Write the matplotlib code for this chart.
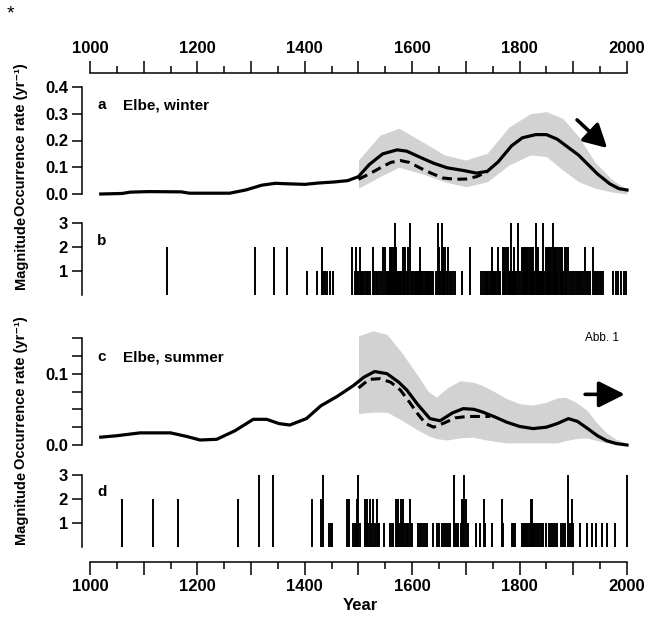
import numpy as np
import matplotlib.pyplot as plt

plt.rcParams['font.family'] = ['Liberation Sans', 'DejaVu Sans']
plt.rcParams['font.weight'] = 'bold'

# --- winter (a) smoothed occurrence rate ---
win_years = [1020, 1060, 1075, 1110, 1170, 1185, 1260, 1290, 1320, 1345, 1370, 1400,
             1425, 1455, 1480, 1500, 1520, 1545, 1572, 1590, 1615, 1640, 1665, 1695,
             1720, 1740, 1760, 1785, 1805, 1830, 1850, 1870, 1890, 1910, 1925, 1945,
             1968, 1985, 2000]
win_rate = [0.0, 0.002, 0.007, 0.009, 0.008, 0.003, 0.003, 0.015, 0.033, 0.04, 0.038, 0.036,
            0.041, 0.045, 0.05, 0.065, 0.11, 0.15, 0.165, 0.16, 0.137, 0.115, 0.098, 0.088,
            0.078, 0.085, 0.12, 0.18, 0.21, 0.222, 0.222, 0.205, 0.175, 0.145, 0.115, 0.075,
            0.038, 0.02, 0.015]
win_band_years = [1500, 1540, 1575, 1615, 1660, 1700, 1740, 1780, 1820, 1850, 1880,
                  1910, 1940, 1970, 2000]
win_band_lo = [0.022, 0.065, 0.1, 0.078, 0.046, 0.027, 0.046, 0.108, 0.146, 0.14, 0.09,
               0.046, 0.022, 0.008, 0.0]
win_band_hi = [0.127, 0.22, 0.246, 0.2, 0.146, 0.127, 0.153, 0.25, 0.3, 0.308, 0.283,
               0.215, 0.12, 0.058, 0.015]
win_dash_years = [1500, 1520, 1540, 1560, 1578, 1595, 1615, 1635, 1657, 1680, 1700, 1720, 1740]
win_dash_rate = [0.055, 0.075, 0.097, 0.118, 0.125, 0.118, 0.097, 0.078, 0.06, 0.055,
                 0.056, 0.065, 0.083]

# --- winter (b) flood events ---
win_ev_years = [1143, 1307, 1343, 1366, 1405, 1422, 1432, 1434, 1438, 1441, 1447, 1453,
                1487, 1494, 1496, 1498, 1500, 1502, 1504, 1506, 1508, 1512, 1515, 1518, 1522,
                1527, 1529, 1532, 1535, 1538, 1542, 1546, 1549, 1553,
                1555, 1557, 1559, 1561, 1563, 1565, 1566, 1568, 1570, 1572, 1574, 1576, 1578,
                1580, 1582, 1584, 1586, 1590, 1593, 1596, 1599, 1601,
                1605, 1607, 1609, 1611, 1613, 1615, 1617, 1619, 1621, 1623, 1625, 1627, 1629,
                1631, 1633, 1635, 1637, 1639,
                1644, 1648, 1650, 1652, 1655, 1657, 1660, 1662, 1664, 1667, 1670, 1673, 1676,
                1680, 1692, 1708, 1729, 1732, 1735, 1738,
                1740, 1742, 1744, 1746, 1748, 1750, 1752, 1754, 1756, 1759, 1761, 1763,
                1769, 1771, 1773, 1775, 1778, 1780, 1782, 1784, 1786, 1788, 1790, 1792, 1794, 1797,
                1800, 1804, 1806, 1808, 1810, 1812, 1814, 1816,
                1819, 1821, 1823, 1825, 1827, 1830, 1832, 1834, 1836, 1838, 1840, 1842, 1844,
                1846, 1849, 1851, 1853, 1855, 1857, 1859, 1862, 1864, 1866, 1868, 1870, 1872,
                1875, 1877, 1879, 1881, 1884, 1887, 1890, 1893,
                1897, 1900, 1903, 1906, 1909, 1912, 1915, 1918, 1922, 1925, 1928, 1931, 1937,
                1940, 1943, 1946, 1949, 1952, 1955,
                1974, 1979, 1984, 1989, 1994, 1999]
win_ev_mag = [2, 2, 2, 2, 1, 1, 2, 1, 1, 1, 1, 1,
              2, 1, 2, 1, 1, 2, 1, 1, 1, 1, 1, 1, 1,
              2, 1, 1, 1, 1, 1, 2, 2, 1,
              1, 1, 2, 2, 2, 1, 2, 3, 2, 1, 1, 1, 1,
              1, 2, 2, 2, 1, 2, 3, 1, 1,
              1, 1, 1, 1, 1, 2, 1, 1, 1, 1, 1, 1, 1,
              1, 1, 1, 1, 1,
              1, 3, 2, 1, 3, 2, 1, 2, 1, 2, 1, 1, 1,
              1, 1, 2, 1, 1, 1, 1,
              1, 1, 1, 1, 2, 1, 1, 1, 1, 2, 1, 1,
              2, 2, 1, 2, 2, 1, 1, 3, 1, 1, 2, 1, 1, 3,
              1, 2, 2, 2, 2, 2, 2, 2,
              2, 2, 2, 2, 1, 3, 2, 2, 1, 1, 1, 1, 3,
              1, 2, 2, 2, 2, 2, 2, 3, 2, 2, 2, 1, 2,
              2, 2, 2, 1, 2, 2, 2, 1,
              1, 1, 1, 1, 1, 1, 1, 1, 2, 1, 1, 1, 2,
              1, 1, 1, 1, 1, 1,
              1, 1, 1, 1, 1, 1]

# --- summer (c) smoothed occurrence rate ---
sum_years = [1020, 1050, 1093, 1150, 1180, 1205, 1236, 1270, 1304, 1329, 1352, 1372,
             1403, 1430, 1460, 1490, 1510, 1530, 1553, 1575, 1590, 1610, 1633, 1652,
             1675, 1695, 1715, 1732, 1755, 1776, 1800, 1825, 1850, 1870, 1891, 1908,
             1925, 1945, 1962, 1980, 2000]
sum_rate = [0.011, 0.013, 0.017, 0.017, 0.012, 0.007, 0.008, 0.02, 0.036, 0.036, 0.03, 0.028,
            0.037, 0.055, 0.068, 0.083, 0.095, 0.103, 0.1, 0.088, 0.077, 0.057, 0.037, 0.034,
            0.045, 0.051, 0.05, 0.046, 0.039, 0.032, 0.026, 0.023, 0.025, 0.03, 0.037, 0.033,
            0.024, 0.013, 0.006, 0.002, 0.0]
sum_band_years = [1500, 1527, 1553, 1580, 1608, 1630, 1645, 1665, 1689, 1714, 1732, 1755,
                  1776, 1800, 1825, 1850, 1870, 1885, 1905, 1925, 1945, 1962, 1980, 2000]
sum_band_lo = [0.044, 0.046, 0.046, 0.035, 0.022, 0.013, 0.009, 0.007, 0.01, 0.011, 0.008,
               0.005, 0.003, 0.003, 0.003, 0.003, 0.003, 0.006, 0.009, 0.01, 0.006, 0.003,
               0.001, 0.0]
sum_band_hi = [0.153, 0.16, 0.155, 0.13, 0.1, 0.075, 0.067, 0.08, 0.09, 0.088, 0.083, 0.074,
               0.065, 0.058, 0.056, 0.06, 0.066, 0.067, 0.06, 0.049, 0.03, 0.017, 0.008, 0.002]
sum_dash_years = [1500, 1520, 1540, 1560, 1578, 1595, 1610, 1625, 1640, 1660, 1680, 1702, 1725, 1745]
sum_dash_rate = [0.08, 0.092, 0.093, 0.088, 0.077, 0.06, 0.044, 0.03, 0.025, 0.031, 0.038,
                 0.04, 0.04, 0.04]

# --- summer (d) flood events ---
sum_ev_years = [1059, 1118, 1163, 1276, 1315, 1341, 1414, 1431, 1433, 1446, 1448, 1450,
                1479, 1482, 1490, 1493, 1496, 1498, 1500, 1502,
                1512, 1514, 1516, 1518, 1521, 1524, 1527, 1530, 1534, 1536, 1539, 1547,
                1559, 1562, 1565, 1570, 1572, 1574, 1576, 1579, 1581, 1583, 1586, 1590, 1593,
                1596, 1599,
                1611, 1614, 1617, 1620, 1623, 1627,
                1639, 1647, 1650, 1655, 1660, 1663, 1666, 1670,
                1677, 1680, 1683, 1686, 1690, 1693, 1695, 1697, 1700, 1703,
                1718, 1726, 1734, 1736, 1749, 1768, 1770,
                1785, 1788, 1792,
                1804, 1806, 1808, 1810, 1812, 1814, 1816, 1819, 1821, 1823, 1825, 1827, 1829,
                1832, 1835, 1838, 1841, 1843,
                1849, 1855, 1858, 1862, 1866, 1870, 1878, 1881, 1885, 1891, 1893, 1897, 1899,
                1912, 1925, 1934, 1943, 1953, 1962, 1978, 2000]
sum_ev_mag = [2, 2, 2, 2, 3, 3, 2, 2, 3, 1, 1, 1,
              2, 2, 1, 1, 1, 2, 3, 1,
              2, 1, 2, 1, 2, 1, 2, 1, 2, 1, 1, 1,
              1, 1, 1, 2, 1, 2, 1, 2, 1, 2, 1, 1, 1,
              2, 1,
              1, 1, 1, 1, 1, 1,
              1, 1, 1, 1, 1, 1, 1, 1,
              3, 1, 1, 1, 1, 2, 2, 3, 2, 1,
              1, 1, 2, 1, 1, 2, 1,
              1, 1, 1,
              1, 1, 1, 1, 1, 1, 1, 1, 2, 2, 1, 1, 1,
              1, 1, 1, 1, 1,
              1, 1, 1, 1, 1, 1, 1, 1, 1, 3, 1, 2, 1,
              1, 1, 1, 1, 1, 1, 1, 3]

rate_a_ticks = [0.0, 0.1, 0.2, 0.3, 0.4]
rate_c_ticks = [0.0, 0.025, 0.05, 0.075, 0.1, 0.125, 0.15]
rate_c_labels = ['0.0', '', '', '', '0.1', '', '']
mag_ticks = [1, 2, 3]
year_major = list(range(1000, 2001, 100))
year_minor = list(range(1050, 2000, 100))
year_labels = [str(y) if y % 200 == 0 else '' for y in year_major]

W, H = 648, 617
fig = plt.figure(figsize=(W / 100, H / 100), dpi=100)


def box(x0, y0, x1, y1):
    return [x0 / W, 1 - y1 / H, (x1 - x0) / W, (y1 - y0) / H]


X0, X1 = 985.1, 2005.6
LW_AX = 1.1
GREY = '#d2d2d2'


def panel(y0, y1, ylim):
    ax = fig.add_axes(box(82, y0, 630, y1))
    ax.set_xlim(X0, X1)
    ax.set_ylim(*ylim)
    for s in ['top', 'right', 'bottom']:
        ax.spines[s].set_visible(False)
    ax.spines['left'].set_linewidth(LW_AX)
    ax.set_xticks([])
    ax.tick_params(axis='y', direction='out', length=7, width=LW_AX, pad=3, labelsize=12)
    ax.patch.set_alpha(0)
    return ax


def year_axis(y0, y1, top):
    ax = fig.add_axes(box(82, y0, 630, y1))
    ax.set_xlim(X0, X1)
    ax.set_yticks([])
    ax.patch.set_alpha(0)
    keep = 'top' if top else 'bottom'
    for s in ['top', 'bottom', 'left', 'right']:
        ax.spines[s].set_visible(s == keep)
    ax.spines[keep].set_bounds(1000, 2000)
    ax.spines[keep].set_linewidth(LW_AX)
    if top:
        ax.xaxis.tick_top()
    ax.set_xticks(year_major)
    ax.set_xticklabels(year_labels)
    ax.set_xticks(year_minor, minor=True)
    ax.tick_params(axis='x', which='major', length=9, width=LW_AX, labelsize=12, pad=3)
    ax.tick_params(axis='x', which='minor', length=5, width=LW_AX)
    return ax


year_axis(73, 79, True)
year_axis(556, 562, False)

# (a) winter rate
ax_a = panel(87, 194, (0, 0.4))
ax_a.fill_between(win_band_years, win_band_lo, win_band_hi, color=GREY, lw=0, clip_on=False)
ax_a.plot(win_dash_years, win_dash_rate, color='black', lw=2.2, dashes=(3.2, 1.8), clip_on=False)
ax_a.plot(win_years, win_rate, color='black', lw=2.3, clip_on=False)
ax_a.set_yticks(rate_a_ticks)
ax_a.set_yticklabels(['0.0', '0.1', '0.2', '0.3', '0.4'])
ax_a.annotate('', xy=(1963, 0.172), xytext=(1907, 0.277), annotation_clip=False,
              arrowprops=dict(arrowstyle='-|>,head_length=0.7,head_width=0.38',
                              mutation_scale=20, lw=2.6, color='black', shrinkA=0, shrinkB=0))

# (b) winter events
ax_b = panel(223, 295, (0, 3))
ax_b.vlines(win_ev_years, 0, win_ev_mag, colors='black', lw=1.4)
ax_b.set_yticks(mag_ticks)

# (c) summer rate
ax_c = panel(338, 445, (0, 0.15))
ax_c.fill_between(sum_band_years, sum_band_lo, sum_band_hi, color=GREY, lw=0, clip_on=False)
ax_c.plot(sum_dash_years, sum_dash_rate, color='black', lw=2.2, dashes=(3.2, 1.8), clip_on=False)
ax_c.plot(sum_years, sum_rate, color='black', lw=2.3, clip_on=False)
ax_c.set_yticks(rate_c_ticks)
ax_c.set_yticklabels(rate_c_labels)
ax_c.annotate('', xy=(1996, 0.071), xytext=(1922, 0.071), annotation_clip=False,
              arrowprops=dict(arrowstyle='-|>,head_length=0.8,head_width=0.4',
                              mutation_scale=20, lw=2.6, color='black', shrinkA=0, shrinkB=0))

# (d) summer events
ax_d = panel(475, 547, (0, 3))
ax_d.vlines(sum_ev_years, 0, sum_ev_mag, colors='black', lw=1.4)
ax_d.set_yticks(mag_ticks)


def ftext(x, y, s, **kw):
    fig.text(x / W, 1 - y / H, s, **kw)


ftext(21, 140, 'Occurrence rate (yr⁻¹)', rotation=90, ha='center', va='center', fontsize=10.5)
ftext(21, 252, 'Magnitude', rotation=90, ha='center', va='center', fontsize=10.5)
ftext(21, 393, 'Occurrence rate (yr⁻¹)', rotation=90, ha='center', va='center', fontsize=10.5)
ftext(21, 507, 'Magnitude', rotation=90, ha='center', va='center', fontsize=10.5)

ftext(97, 105, 'a', ha='left', va='center', fontsize=11)
ftext(123, 105, 'Elbe, winter', ha='left', va='center', fontsize=11)
ftext(97, 241, 'b', ha='left', va='center', fontsize=11)
ftext(97, 357, 'c', ha='left', va='center', fontsize=11)
ftext(123, 357, 'Elbe, summer', ha='left', va='center', fontsize=11)
ftext(97, 492, 'd', ha='left', va='center', fontsize=11)
ftext(585, 338, 'Abb. 1', ha='left', va='center', fontsize=8.5, fontweight='normal')
ftext(7, 14, '*', ha='left', va='center', fontsize=14, fontweight='normal')
ftext(360, 606, 'Year', ha='center', va='center', fontsize=12)

fig.savefig('out.png', dpi=100)
